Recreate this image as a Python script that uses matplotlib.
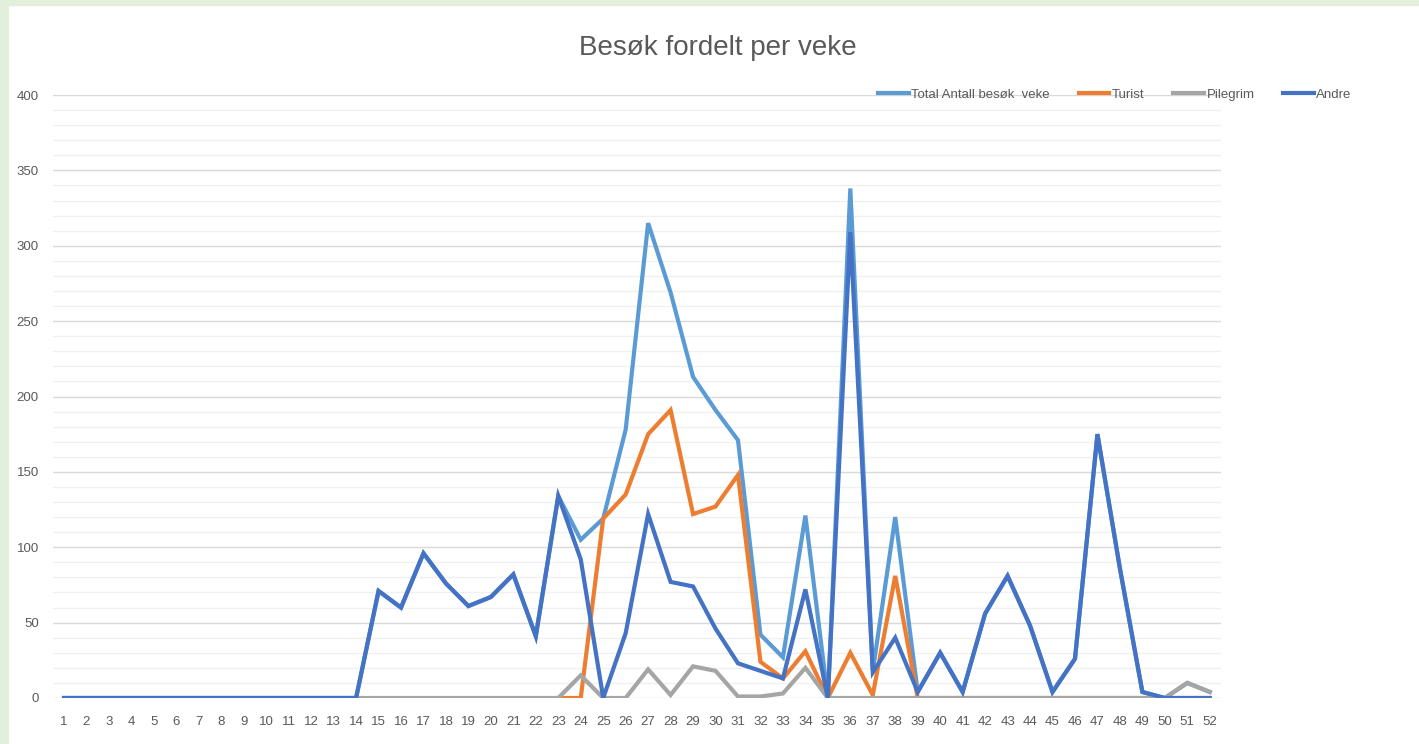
import numpy as np
import matplotlib
matplotlib.use("Agg")
import matplotlib.pyplot as plt
from matplotlib.ticker import MultipleLocator
from matplotlib.patches import Rectangle
from matplotlib import font_manager

names = {f.name for f in font_manager.fontManager.ttflist}
FONT = ['Liberation Sans Narrow', 'DejaVu Sans'] if 'Liberation Sans Narrow' in names else ['Liberation Sans', 'DejaVu Sans']
plt.rcParams['font.family'] = FONT

weeks = list(range(1, 53))
week_labels = [str(w) for w in weeks]

nan = np.nan
total = [0]*14 + [71, 60, 96, 76, 61, 67, 82, 41,
                  134, 105, 119, 178, 315, 269, 213, 191,
                  171, 42, 27, 121, 0, 338, 18, 120,
                  4, 30, 4, 56, 81, 48, 4, 26,
                  175, 86, 4, 0, 10, 4]
turist = [nan]*22 + [0, 0, 119, 135, 175, 191, 122, 127,
                     148, 24, 13, 31, 0, 30, 2, 81,
                     0] + [0]*13
pilegrim = [0]*23 + [15, 0, 0, 19, 2, 21, 18, 1,
                     1, 3, 20, 0, 0, 0, 0, 0] + [0]*11 + [10, 4]
andre = [0]*14 + [71, 60, 96, 76, 61, 67, 82, 41,
                  134, 92, 0, 43, 122, 77, 74, 46,
                  23, 18, 13, 72, 0, 309, 17, 40,
                  4, 30, 4, 56, 81, 48, 4, 26,
                  175, 86, 4, 0, 0, 0]

series = [
    ("Total Antall besøk  veke", total, "#5B9BD5"),
    ("Turist", turist, "#ED7D31"),
    ("Pilegrim", pilegrim, "#A5A5A5"),
    ("Andre", andre, "#4472C4"),
]

W, H = 1419, 744
fig = plt.figure(figsize=(W/100, H/100), dpi=100)
fig.patch.set_facecolor("white")

# Excel-like surrounding frame
fig.patches.append(Rectangle((0, 0), 8/W, 1, transform=fig.transFigure, color="#e2efda", zorder=0))
fig.patches.append(Rectangle((0, 1-5/H), 1, 5/H, transform=fig.transFigure, color="#e2efda", zorder=0))

ax = fig.add_axes([52.8/W, (H-698)/H, (1221-52.8)/W, (698-95)/H])
for name, vals, col in series:
    ax.plot(weeks, vals, color=col, lw=3.0, label=name, solid_joinstyle='miter', zorder=3)

ax.set_xlim(0.5, 52.5)
ax.set_ylim(0, 400)
ax.yaxis.set_major_locator(MultipleLocator(50))
ax.yaxis.set_minor_locator(MultipleLocator(10))
ax.set_xticks(weeks)
ax.set_xticklabels(week_labels)
ax.grid(axis='y', which='major', color='#d9d9d9', lw=1.0, zorder=0)
ax.grid(axis='y', which='minor', color='#f0f0f0', lw=1.0, zorder=0)
for s in ax.spines.values():
    s.set_visible(False)
ax.tick_params(axis='both', which='both', length=0, colors='#595959', labelsize=9.5)
ax.tick_params(axis='x', pad=13)
ax.tick_params(axis='y', pad=10)
ax.set_axisbelow(True)

fig.text(0.506, (H-48)/H, "Besøk fordelt per veke", ha='center', va='center',
         fontsize=20, color='#595959')

leg = fig.legend(loc='center', bbox_to_anchor=(1115/W, (H-95)/H), ncol=4, frameon=False,
                 fontsize=9.5, handlelength=2.3, handletextpad=0.2, columnspacing=2.2,
                 labelcolor='#595959')

fig.savefig("out.png", dpi=100, facecolor="white")
